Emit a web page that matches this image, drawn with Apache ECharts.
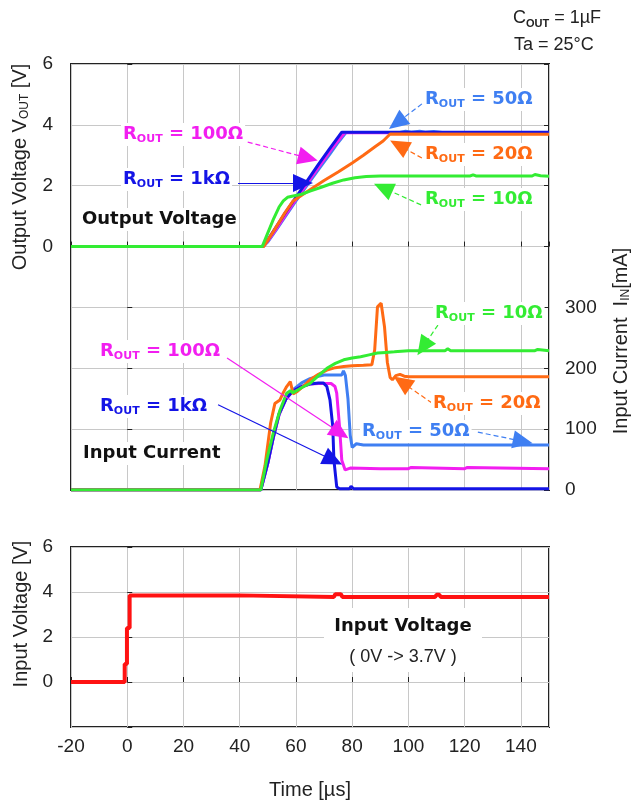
<!DOCTYPE html>
<html><head><meta charset="utf-8">
<script src="https://cdn.jsdelivr.net/npm/echarts@6/dist/echarts.min.js"></script>
<style>html,body{margin:0;padding:0;background:#fff}#c{width:632px;height:802px}</style>
</head><body><div id="c"></div>
<script>
// ---------------- data ----------------
// time axis [µs]
const timeMin = -20, timeMax = 150, timeStep = 20;
// tick labels
const voutTickLabels = [0, 2, 4, 6];
const iinTickLabels = [0, 100, 200, 300];
const vinTickLabels = [0, 2, 4, 6];

// Output voltage [V]
const tVout1k  = [-20, 48, 50, 53, 56, 60, 64, 68, 72, 75, 76.3, 150];
const vVout1k  = [0, 0, 0.22, 0.65, 1.08, 1.62, 2.16, 2.7, 3.22, 3.6, 3.76, 3.76];
const tVout100 = [-20, 48.3, 50, 53, 56, 60, 64, 68, 72, 75, 77.3, 150];
const vVout100 = [0, 0, 0.18, 0.58, 1.0, 1.55, 2.08, 2.6, 3.12, 3.48, 3.74, 3.74];
const tVout50  = [-20, 48.3, 50, 53, 56, 60, 64, 68, 72, 75, 77.8, 97, 99, 101, 104, 106, 109, 112, 150];
const vVout50  = [0, 0, 0.15, 0.55, 0.96, 1.5, 2.02, 2.53, 3.03, 3.42, 3.75, 3.75, 3.79, 3.76, 3.79, 3.76, 3.78, 3.75, 3.75];
const tVout20  = [-20, 48.5, 52, 56, 59, 61.5, 65, 70, 75, 80, 84, 88, 91, 93.5, 150];
const vVout20  = [0, 0, 0.5, 1.1, 1.5, 1.65, 1.87, 2.17, 2.45, 2.75, 3.0, 3.27, 3.47, 3.7, 3.69];
const tVout10  = [-20, 48, 50, 52, 54, 55.5, 57, 59, 62, 65, 69, 73, 77, 81, 85, 90, 122, 123, 124, 144, 145, 147, 150];
const vVout10  = [0, 0, 0.45, 0.9, 1.3, 1.5, 1.62, 1.66, 1.72, 1.82, 1.95, 2.08, 2.19, 2.26, 2.3, 2.32, 2.32, 2.36, 2.32, 2.32, 2.37, 2.33, 2.31];

// Input current [mA]
const tIin1k  = [-20, 47.5, 50, 52, 54, 56.5, 59, 62, 65, 68, 69.7, 71, 72.1, 73.1, 73.5, 74.5, 75.5, 79, 79.6, 80.5, 150];
const iIin1k  = [0, 0, 45, 88, 125, 150, 163, 170, 174, 176, 176, 170, 148, 104, 49, 5, 2, 2, 6, 2, 2];
const tIin100 = [-20, 47.5, 50, 52, 54, 56.5, 59, 62, 65, 68, 72.5, 73.9, 74.5, 75.5, 76.3, 77.5, 79.3, 90, 100, 101, 120, 121, 150];
const iIin100 = [0, 0, 44, 87, 124, 150, 163, 170, 174, 175, 175, 170, 159, 104, 49, 33, 36, 35, 35, 37, 35, 37, 35];
const tIin50  = [-20, 47.5, 50, 52, 54, 56.5, 59, 62, 65, 68, 70, 76.3, 76.9, 77.6, 78.5, 79.3, 80, 81.5, 84, 150];
const iIin50  = [0, 0, 44, 87, 124, 150, 165, 176, 183, 187, 189, 189, 196, 188, 150, 90, 70, 76, 74, 74];
const tIin20  = [-20, 47.2, 49, 51, 52.5, 54.3, 55.5, 56.7, 58, 59, 60.5, 63, 65, 68, 71, 74, 77, 80, 84, 87, 88, 89, 90.3, 91.5, 92.5, 93.5, 94.3, 95.5, 97, 98.5, 100, 150];
const iIin20  = [0, 0, 40, 110, 142, 148, 160, 170, 178, 158, 162, 172, 181, 190, 197, 201, 203, 204, 205, 206, 230, 301, 307, 268, 210, 185, 181, 188, 190, 187, 186, 186];
const tIin10  = [-20, 47.5, 49.6, 51.9, 54.3, 56.7, 58, 59, 62, 65, 68, 71, 74, 77, 80, 83, 86, 89, 92, 95, 100, 113, 114, 115, 145, 146, 150];
const iIin10  = [0, 0, 49, 93, 131, 159, 163, 160, 168, 175, 188, 200, 208, 214, 217, 219, 222, 225, 226, 227, 229, 229, 232, 229, 229, 231, 229];

// Input voltage [V]
const tVin = [-20, -0.9, -0.9, -0.1, -0.1, 0.85, 0.85, 40, 40, 73.5, 74, 76, 76.5, 109.5, 110, 111, 111.5, 150];
const vVin = [0, 0, 0.8, 0.8, 2.4, 2.4, 3.85, 3.85, 3.78, 3.78, 3.9, 3.9, 3.78, 3.78, 3.88, 3.88, 3.78, 3.78];

// ---------------- chart ----------------
const zip = (a, b) => a.map((x, i) => [x, b[i]]);
const C = {
  k1: '#1414e6', r100: '#f21ef0', r50: '#3f7ff2', r20: '#ff6a14', r10: '#33ec33', vin: '#ff1212'
};
const FONT = 'Liberation Sans';
const BOLD = 'DejaVu Sans';
const gridLine = { show: true, lineStyle: { color: '#c8c8c8', width: 1 } };
const tick = { show: true, inside: true, length: 5, lineStyle: { color: '#222', width: 1 } };
const labelStyle = { fontFamily: FONT, fontSize: 19, color: '#222' };

function arrows(list, color, dashed) {
  return {
    silent: true, animation: false,
    symbol: ['none', 'triangle'], symbolSize: [18, 20],
    label: { show: false },
    lineStyle: { color: color, width: 1.2, type: dashed ? [5, 3] : 'solid', opacity: 1 },
    itemStyle: { color: color },
    emphasis: { disabled: true },
    data: list.map(p => [{ coord: p[0] }, { coord: p[1] }])
  };
}
function line(name, t, v, color, xi, yi, width, ml) {
  const s = {
    name, type: 'line', xAxisIndex: xi, yAxisIndex: yi, data: zip(t, v),
    showSymbol: false, symbol: 'none', lineStyle: { color, width }, itemStyle: { color },
    animation: false, silent: true
  };
  if (ml) s.markLine = ml;
  return s;
}

function rlabel(x, y, val, color) {
  return {
    type: 'text', x: x, y: y, z: 50,
    style: {
      text: '{r|R}{s|OUT}{r| = ' + val + '}',
      backgroundColor: '#fff', padding: [1, 2, 1, 2],
      rich: {
        r: { fill: color, fontFamily: BOLD, fontWeight: 'bold', fontSize: 18, lineHeight: 21 },
        s: { fill: color, fontFamily: BOLD, fontWeight: 'bold', fontSize: 11, lineHeight: 11, verticalAlign: 'bottom' }
      }
    }
  };
}
function blabel(x, y, txt) {
  return {
    type: 'text', x: x, y: y, z: 50,
    style: { text: txt, fill: '#111', fontFamily: BOLD, fontWeight: 'bold', fontSize: 18, lineHeight: 21,
      backgroundColor: '#fff', padding: [1, 2, 1, 2] }
  };
}
function vname(x, y, txt, rich) {
  return {
    type: 'text', x: x, y: y, rotation: Math.PI / 2, z: 50,
    style: { text: txt, fill: '#222', fontFamily: FONT, fontSize: 20, align: 'center', verticalAlign: 'middle',
      rich: rich || {} }
  };
}
const subRich = {
  n: { fill: '#222', fontFamily: FONT, fontSize: 20, lineHeight: 22 },
  s: { fill: '#222', fontFamily: FONT, fontSize: 12, lineHeight: 12, verticalAlign: 'bottom' }
};

const chart = echarts.init(document.getElementById('c'), null, { renderer: 'canvas' });
chart.setOption({
  animation: false,
  backgroundColor: '#fff',
  grid: [
    { left: 71, top: 64, width: 478, height: 426, show: true, borderColor: '#222', borderWidth: 2, backgroundColor: 'transparent' },
    { left: 71, top: 547, width: 478, height: 180, show: true, borderColor: '#222', borderWidth: 2, backgroundColor: 'transparent' }
  ],
  xAxis: [
    { type: 'value', gridIndex: 0, min: timeMin, max: timeMax, interval: timeStep,
      axisLine: { show: false }, axisTick: tick, axisLabel: { show: false }, splitLine: gridLine },
    { type: 'value', gridIndex: 1, min: timeMin, max: timeMax, interval: timeStep,
      axisLine: { show: false }, axisTick: tick, splitLine: gridLine,
      axisLabel: Object.assign({ margin: 10, showMaxLabel: false }, labelStyle) }
  ],
  yAxis: [
    { type: 'value', gridIndex: 0, min: -8, max: 6, interval: 2, position: 'left',
      axisLine: { show: false }, axisTick: tick, splitLine: gridLine,
      axisLabel: Object.assign({ margin: 18, formatter: v => voutTickLabels.includes(v) ? String(v) : '' }, labelStyle) },
    { type: 'value', gridIndex: 0, min: 0, max: 700, interval: 100, position: 'right',
      axisLine: { show: false }, axisTick: tick, splitLine: { show: false },
      axisLabel: Object.assign({ margin: 16, formatter: v => iinTickLabels.includes(v) ? String(v) : '' }, labelStyle) },
    { type: 'value', gridIndex: 1, min: -2, max: 6, interval: 2,
      axisLine: { show: false }, axisTick: tick, splitLine: gridLine,
      axisLabel: Object.assign({ margin: 18, formatter: v => vinTickLabels.includes(v) ? String(v) : '' }, labelStyle) }
  ],
  series: [
    // output voltage
    line('Vout 50', tVout50, vVout50, C.r50, 0, 0, 3, arrows([[[104.8, 4.69], [95.9, 4.06]]], C.r50, true)),
    line('Vout 100', tVout100, vVout100, C.r100, 0, 0, 3, arrows([[[40.1, 3.50], [64.3, 2.91]]], C.r100, true)),
    line('Vout 1k', tVout1k, vVout1k, C.k1, 0, 0, 3, arrows([[[39.4, 2.09], [62.5, 2.09]]], C.k1, false)),
    line('Vout 20', tVout20, vVout20, C.r20, 0, 0, 3, arrows([[[104.8, 2.91], [96.6, 3.33]]], C.r20, true)),
    line('Vout 10', tVout10, vVout10, C.r10, 0, 0, 3, arrows([[[104.5, 1.37], [91.0, 1.93]]], C.r10, true)),
    // input current
    line('Iin 50', tIin50, iIin50, C.r50, 0, 1, 3, arrows([[[124.7, 95], [140.7, 80]]], C.r50, true)),
    line('Iin 100', tIin100, iIin100, C.r100, 0, 1, 3, arrows([[[35.5, 217], [75.7, 94]]], C.r100, false)),
    line('Iin 1k', tIin1k, iIin1k, C.k1, 0, 1, 3, arrows([[[32.3, 140], [73.2, 49]]], C.k1, false)),
    line('Iin 20', tIin20, iIin20, C.r20, 0, 1, 3, arrows([[[108.4, 143], [97.7, 177]]], C.r20, true)),
    line('Iin 10', tIin10, iIin10, C.r10, 0, 1, 3, arrows([[[110.5, 271], [105.2, 235]]], C.r10, true)),
    // input voltage
    line('Vin', tVin, vVin, C.vin, 1, 2, 4)
  ],
  graphic: [
    // top-right conditions
    { type: 'text', x: 513, y: 8, style: { text: 'C{s|OUT}{n| = 1µF}', fill: '#222', fontFamily: FONT, fontSize: 18, lineHeight: 21,
        rich: { n: { fill: '#222', fontFamily: FONT, fontSize: 18, lineHeight: 21 },
                s: { fill: '#222', fontFamily: FONT, fontSize: 11, fontWeight: 'bold', lineHeight: 11, verticalAlign: 'bottom' } } } },
    { type: 'text', x: 514, y: 35, style: { text: 'Ta = 25°C', fill: '#222', fontFamily: FONT, fontSize: 18, lineHeight: 21 } },
    // axis names
    vname(20, 167, '{n|Output Voltage V}{s|OUT}{n| [V]}', subRich),
    vname(621, 341, '{n|Input Current  I}{s|IN}{n|[mA]}', subRich),
    vname(21, 614, '{n|Input Voltage [V]}', subRich),
    { type: 'text', x: 310, y: 790, style: { text: 'Time [µs]', fill: '#222', fontFamily: FONT, fontSize: 20, align: 'center', verticalAlign: 'middle' } },
    // top annotations
    rlabel(423, 88, '50Ω', C.r50),
    rlabel(121, 123, '100Ω', C.r100),
    rlabel(121, 168, '1kΩ', C.k1),
    rlabel(423, 143, '20Ω', C.r20),
    rlabel(423, 188, '10Ω', C.r10),
    blabel(80, 208, 'Output Voltage'),
    // current annotations
    rlabel(433, 302, '10Ω', C.r10),
    rlabel(98, 340, '100Ω', C.r100),
    rlabel(98, 395, '1kΩ', C.k1),
    rlabel(431, 392, '20Ω', C.r20),
    rlabel(360, 420, '50Ω', C.r50),
    blabel(81, 442, 'Input Current'),
    // input voltage annotation
    { type: 'rect', shape: { x: 324, y: 608, width: 158, height: 64 }, style: { fill: '#fff' }, z: 40 },
    { type: 'text', x: 403, y: 626, z: 50, style: { text: 'Input Voltage', fill: '#111', fontFamily: BOLD, fontWeight: 'bold', fontSize: 18, align: 'center', verticalAlign: 'middle' } },
    { type: 'text', x: 403, y: 657, z: 50, style: { text: '( 0V -> 3.7V )', fill: '#222', fontFamily: FONT, fontSize: 18, align: 'center', verticalAlign: 'middle' } }
  ]
});
</script>
</body></html>
